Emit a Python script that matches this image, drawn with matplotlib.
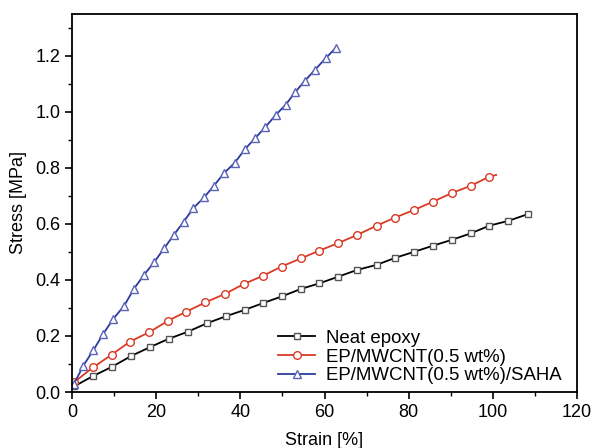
import matplotlib
matplotlib.use('Agg')
import matplotlib.pyplot as plt
from matplotlib.ticker import MultipleLocator

plt.rcParams['font.family'] = ['Liberation Sans', 'DejaVu Sans']

# values
neat_strain = [0.5, 5.0, 9.5, 14.0, 18.5, 23.0, 27.5, 32.0, 36.5, 41.0, 45.5, 50.0,
               54.4, 58.8, 63.3, 67.8, 72.4, 76.8, 81.2, 85.7, 90.2, 94.7, 99.2,
               103.7, 108.3]
neat_stress = [0.02, 0.057, 0.09, 0.128, 0.16, 0.19, 0.215, 0.245, 0.27, 0.293, 0.318,
               0.342, 0.368, 0.388, 0.412, 0.436, 0.454, 0.479, 0.500, 0.522, 0.543,
               0.566, 0.594, 0.611, 0.635]

cnt_strain = [0.5, 5.0, 9.4, 13.8, 18.3, 22.9, 27.2, 31.7, 36.3, 40.9, 45.4, 49.8,
              54.4, 58.8, 63.3, 67.8, 72.4, 76.8, 81.3, 85.7, 90.2, 94.7, 99.2, 100.8]
cnt_stress = [0.035, 0.088, 0.133, 0.180, 0.213, 0.255, 0.287, 0.320, 0.35, 0.386,
              0.415, 0.448, 0.477, 0.505, 0.532, 0.561, 0.594, 0.623, 0.65, 0.679,
              0.71, 0.736, 0.769, 0.775]

saha_strain = [0.5, 2.7, 5.1, 7.4, 9.8, 12.4, 14.7, 17.1, 19.5, 21.9, 24.2, 26.5,
               28.8, 31.4, 33.7, 36.1, 38.7, 41.1, 43.5, 45.9, 48.4, 50.8, 53.0,
               55.4, 57.7, 60.3, 62.7]
saha_stress = [0.03, 0.094, 0.15, 0.207, 0.261, 0.308, 0.368, 0.418, 0.463, 0.513,
               0.561, 0.607, 0.656, 0.695, 0.736, 0.781, 0.819, 0.867, 0.906, 0.945,
               0.989, 1.026, 1.07, 1.112, 1.15, 1.192, 1.229]

labels = ['Neat epoxy', 'EP/MWCNT(0.5 wt%)', 'EP/MWCNT(0.5 wt%)/SAHA']

fig = plt.figure(figsize=(5.94, 4.48), dpi=100)
ax = fig.add_axes([0.1212, 0.125, 0.8502, 0.844])

ax.plot(neat_strain, neat_stress, color='black', lw=1.3, marker='s', ms=5,
        mfc='white', mec='#555555', mew=1.0, label=labels[0])
ax.plot(cnt_strain, cnt_stress, color='#d93a26', lw=1.3, marker='o', ms=5.5,
        mfc='white', mec='#d93a26', mew=1.0, markevery=list(range(len(cnt_strain) - 1)),
        label=labels[1])
ax.plot(saha_strain, saha_stress, color='#2b3a9c', lw=1.3, marker='^', ms=6,
        mfc='white', mec='#5a63b8', mew=1.0, label=labels[2])

ax.set_xlim(0, 120)
ax.set_ylim(0, 1.35)
ax.xaxis.set_major_locator(MultipleLocator(20))
ax.xaxis.set_minor_locator(MultipleLocator(10))
ax.yaxis.set_major_locator(MultipleLocator(0.2))
ax.yaxis.set_minor_locator(MultipleLocator(0.1))
ax.yaxis.set_major_formatter(plt.FuncFormatter(lambda v, p: f'{v:.1f}'))

ax.tick_params(which='major', direction='out', length=5, width=1.2, labelsize=13)
ax.tick_params(which='minor', direction='out', length=3, width=1.0)
for s in ax.spines.values():
    s.set_linewidth(1.3)

ax.set_xlabel('Strain [%]', fontsize=13, labelpad=8)
ax.set_ylabel('Stress [MPa]', fontsize=13, labelpad=6)

ax.legend(loc='lower left', frameon=False, fontsize=13.4, handlelength=2.0,
          handletextpad=0.6, labelspacing=0.1, borderpad=0, borderaxespad=0,
          bbox_to_anchor=(0.408, 0.02))

fig.savefig('out.png', dpi=100)
